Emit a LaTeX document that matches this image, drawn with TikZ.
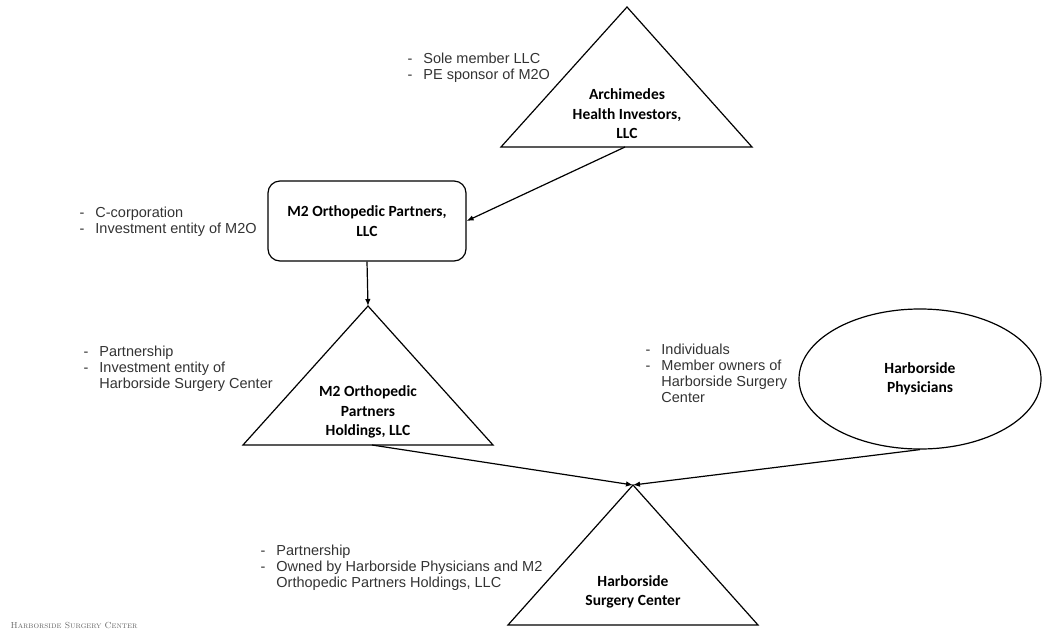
\documentclass[tikz,border=0pt]{standalone}
\usepackage{fontspec}
\newfontfamily\notefont{Liberation Sans}
\newfontfamily\entfont{Carlito}
\usetikzlibrary{arrows.meta,shapes.geometric}
\tikzset{
  entity/.style={font=\entfont\bfseries\fontsize{15.5}{19.5}\selectfont, align=center, inner sep=0pt},
  note/.style={font=\notefont\fontsize{14.5}{16.2}\selectfont, text=black!80, anchor=base west, inner sep=0pt},
  link/.style={-{Latex[length=7pt,width=5.5pt]}},
}
\newcommand{\dashlist}[1]{\begin{tabular}[t]{@{}l@{\hspace{11pt}}l@{}}#1\end{tabular}}

\begin{document}
\begin{tikzpicture}[x=1pt,y=-1pt,line width=1.2pt]
\useasboundingbox (0,0) rectangle (1042,630);
\coordinate (ahiTop) at (627,7);
\coordinate (ahiLeft) at (501,147);
\coordinate (ahiRight) at (752,147);
\coordinate (ahiBase) at (625,147);
\draw (ahiTop)--(ahiRight)--(ahiLeft)--cycle;
\node[entity] (ahi) at (627,114) {Archimedes\\Health Investors,\\LLC};
\node[note] (ahiNote) at (407,63) {\dashlist{- & Sole member LLC\\ - & PE sponsor of M2O}};
\node[entity, draw, rounded corners=12pt, minimum width=198pt, minimum height=80pt] (m2op) at (367,221) {M2 Orthopedic Partners,\\LLC};
\node[note] (m2opNote) at (79,217) {\dashlist{- & C-corporation\\ - & Investment entity of M2O}};
\coordinate (m2hTop) at (368,306);
\coordinate (m2hLeft) at (243,445);
\coordinate (m2hRight) at (493,445);
\coordinate (m2hBase) at (372,445);
\draw (m2hTop)--(m2hRight)--(m2hLeft)--cycle;
\node[entity] (m2h) at (368,412) {M2 Orthopedic\\Partners\\Holdings, LLC};
\node[note] (m2hNote) at (83,356) {\dashlist{- & Partnership\\ - & Investment entity of\\ & Harborside Surgery Center}};
\node[entity, draw, ellipse, minimum width=242pt, minimum height=140pt] (hp) at (920,379) {Harborside\\Physicians};
\node[note] (hpNote) at (645,354) {\dashlist{- & Individuals\\ - & Member owners of\\ & Harborside Surgery\\ & Center}};
\coordinate (hscTop) at (633,485);
\coordinate (hscLeft) at (508,625);
\coordinate (hscRight) at (758,625);
\draw (hscTop)--(hscRight)--(hscLeft)--cycle;
\node[entity] (hsc) at (633,592) {Harborside\\Surgery Center};
\node[note] (hscNote) at (260,555) {\dashlist{- & Partnership\\ - & Owned by Harborside Physicians and M2\\ & Orthopedic Partners Holdings, LLC}};
\draw[link] (ahiBase) -- (m2op.east);
\draw[link] (m2op.south) -- (m2hTop);
\draw[link] (m2hBase) -- (hscTop);
\draw[link] (hp.south) -- (hscTop);
\node[anchor=base west, inner sep=0pt, text=black!60, font=\fontsize{8.8}{10}\selectfont] (footer) at (10,628) {\textsc{Harborside Surgery Center}};
\end{tikzpicture}
\end{document}
